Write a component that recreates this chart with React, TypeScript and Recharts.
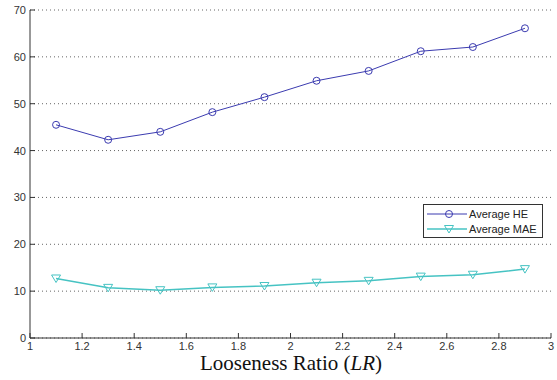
import { LineChart, Line, XAxis, YAxis, CartesianGrid } from 'recharts';

const ratios = [1.1, 1.3, 1.5, 1.7, 1.9, 2.1, 2.3, 2.5, 2.7, 2.9];
const averageHE = [45.5, 42.3, 44.0, 48.2, 51.4, 54.9, 57.0, 61.2, 62.1, 66.1];
const averageMAE = [12.7, 10.7, 10.2, 10.8, 11.1, 11.8, 12.2, 13.1, 13.5, 14.7];
const xTicks = [1, 1.2, 1.4, 1.6, 1.8, 2, 2.2, 2.4, 2.6, 2.8, 3];
const yTicks = [0, 10, 20, 30, 40, 50, 60, 70];

const data = ratios.map((lr, i) => ({ lr, he: averageHE[i], mae: averageMAE[i] }));

const HE_COLOR = '#3b3bb0';
const MAE_COLOR = '#46c3c3';
const AXIS = '#333';
const TICK_FONT = 'Arial, "Liberation Sans", sans-serif';

const BottomTick = ({ x, y, payload }: any) => (
  <g>
    <line x1={x} y1={y} x2={x} y2={y - 5} stroke={AXIS} />
    <text x={x} y={y + 12} textAnchor="middle" fontSize={11} fontFamily={TICK_FONT} fill="#333">
      {payload.value}
    </text>
  </g>
);

const LeftTick = ({ x, y, payload }: any) => (
  <g>
    <line x1={x} y1={y} x2={x + 5} y2={y} stroke={AXIS} />
    <text x={x - 4} y={y + 4} textAnchor="end" fontSize={11} fontFamily={TICK_FONT} fill="#333">
      {payload.value}
    </text>
  </g>
);

const TopTick = ({ x, y }: any) => <line x1={x} y1={y} x2={x} y2={y + 5} stroke={AXIS} />;
const RightTick = ({ x, y }: any) => <line x1={x} y1={y} x2={x - 5} y2={y} stroke={AXIS} />;

const Circle = ({ cx, cy, stroke }: any) => (
  <circle cx={cx} cy={cy} r={3.5} fill="none" stroke={stroke} strokeWidth={1} />
);

const Triangle = ({ cx, cy, stroke }: any) => (
  <path
    d={`M${cx - 4.5},${cy - 3.5} L${cx + 4.5},${cy - 3.5} L${cx},${cy + 4} Z`}
    fill="none"
    stroke={stroke}
    strokeWidth={1}
  />
);

const AxisTitle = () => (
  <text x={291} y={370} textAnchor="middle" fontSize={21} fontFamily='"Liberation Serif", "Times New Roman", serif' fill="#111">
    Looseness Ratio (<tspan fontStyle="italic">LR</tspan>)
  </text>
);

// legend drawn as an overlay so it doesn't take space from the plot
const LegendBox = () => (
  <svg width={120} height={34} style={{ position: 'absolute', left: 423, top: 204, display: 'block' }}>
    <rect x={0.5} y={0.5} width={119} height={33} fill="#fff" stroke="#333" />
    <line x1={4} y1={10} x2={44} y2={10} stroke={HE_COLOR} />
    <Circle cx={26} cy={10} stroke={HE_COLOR} />
    <text x={46} y={14} fontSize={11} fontFamily={TICK_FONT} fill="#222">Average HE</text>
    <line x1={4} y1={25} x2={44} y2={25} stroke={MAE_COLOR} strokeWidth={1.5} />
    <Triangle cx={26} cy={25} stroke={MAE_COLOR} />
    <text x={46} y={29} fontSize={11} fontFamily={TICK_FONT} fill="#222">Average MAE</text>
  </svg>
);

export default function App() {
  return (
    <div style={{ position: 'absolute', left: 0, top: 0, width: 557, height: 380, background: '#fff' }}>
      <LineChart width={557} height={380} data={data} margin={{ top: 10, right: 6, bottom: 0, left: 0 }}>
        <CartesianGrid horizontal vertical={false} stroke="#666" strokeDasharray="1 3" />
        <XAxis
          dataKey="lr"
          type="number"
          domain={[1, 3]}
          ticks={xTicks}
          height={42}
          tickSize={0}
          tickMargin={0}
          tickLine={false}
          stroke={AXIS}
          tick={<BottomTick />}
          label={<AxisTitle />}
        />
        <XAxis
          xAxisId="top"
          orientation="top"
          dataKey="lr"
          type="number"
          domain={[1, 3]}
          ticks={xTicks}
          height={0}
          tickSize={0}
          tickMargin={0}
          tickLine={false}
          stroke={AXIS}
          tick={<TopTick />}
        />
        <YAxis
          domain={[0, 70]}
          ticks={yTicks}
          width={30}
          tickSize={0}
          tickMargin={0}
          tickLine={false}
          stroke={AXIS}
          tick={<LeftTick />}
        />
        <YAxis
          yAxisId="right"
          orientation="right"
          domain={[0, 70]}
          ticks={yTicks}
          width={0}
          tickSize={0}
          tickMargin={0}
          tickLine={false}
          stroke={AXIS}
          tick={<RightTick />}
        />
        <Line
          dataKey="he"
          stroke={HE_COLOR}
          strokeWidth={1}
          dot={<Circle />}
          activeDot={false}
          isAnimationActive={false}
        />
        <Line
          dataKey="mae"
          stroke={MAE_COLOR}
          strokeWidth={1.5}
          dot={<Triangle />}
          activeDot={false}
          isAnimationActive={false}
        />
      </LineChart>
      <LegendBox />
    </div>
  );
}
